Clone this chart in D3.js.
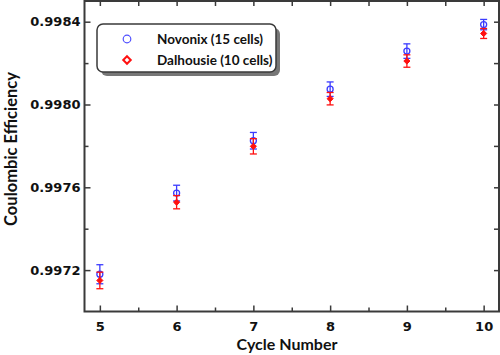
<!DOCTYPE html>
<html><head><meta charset="utf-8">
<script src="https://cdn.jsdelivr.net/npm/d3@7"></script>
<style>body{margin:0;background:#fff}svg{display:block}</style>
</head><body><svg id="c" width="500" height="355"></svg>
<script>
const cycles = [5, 6, 7, 8, 9, 10];
const novonix = [0.99718, 0.997572, 0.997825, 0.998074, 0.998258, 0.998386];
const novonixErr = [0.000046, 0.000038, 0.00004, 0.000035, 0.000035, 0.000025];
const dalhousie = [0.99715, 0.997528, 0.997798, 0.998028, 0.99821, 0.998343];
const dalhousieErr = [0.00004, 0.000032, 0.000037, 0.00003, 0.00003, 0.000024];
const yTicks = [0.9972, 0.9976, 0.9980, 0.9984];
const seriesNames = ["Novonix (15 cells)", "Dalhousie (10 cells)"];

const svg = d3.select("#c");
const L = 84.5, R = 499, T = 1, B = 311.5;
const x = d3.scaleLinear().domain([4.8, 10.2]).range([L, R]);
const y = d3.scaleLinear().domain([0.9970, 0.9985]).range([B, T]);
const axisCol = "#3a3a3a";
const tickFont = "bold 13px 'DejaVu Sans'";

// Axes
const gB = svg.append("g").attr("transform", `translate(0,${B})`)
  .call(d3.axisBottom(x).tickValues(cycles).tickSize(-6).tickPadding(14).tickFormat(d3.format("d")));
const gBm = svg.append("g").attr("transform", `translate(0,${B})`)
  .call(d3.axisBottom(x).tickValues(d3.range(5.5, 10.2, 1)).tickSize(-4).tickFormat(""));
const gT = svg.append("g").attr("transform", `translate(0,${T})`)
  .call(d3.axisTop(x).tickValues(d3.range(5, 10.3, 0.5)).tickSize(-5).tickFormat(""));
const gL = svg.append("g").attr("transform", `translate(${L},0)`)
  .call(d3.axisLeft(y).tickValues(yTicks).tickSize(-6).tickPadding(4).tickFormat(d3.format(".4f")));
const gLm = svg.append("g").attr("transform", `translate(${L},0)`)
  .call(d3.axisLeft(y).tickValues([0.9974, 0.9978, 0.9982]).tickSize(-4).tickFormat(""));
const gR = svg.append("g").attr("transform", `translate(${R},0)`)
  .call(d3.axisRight(y).tickValues(d3.range(0.9972, 0.99845, 0.0002)).tickSize(-5).tickFormat(""));

svg.selectAll(".domain").remove();
svg.selectAll(".tick line").attr("stroke", axisCol).attr("stroke-width", 1.5);
svg.selectAll(".tick text").style("font", tickFont).attr("fill", "#111");
gB.selectAll(".tick text").attr("dy", "0.45em");

svg.append("rect").attr("x", L).attr("y", T).attr("width", R - L).attr("height", B - T)
  .attr("fill", "none").attr("stroke", axisCol).attr("stroke-width", 2);

// Axis titles
svg.append("text").attr("x", 287).attr("y", 350).attr("text-anchor", "middle")
  .style("font", "bold 16px Lato").attr("fill", "#111").text("Cycle Number");
svg.append("text").attr("transform", "translate(17,149) rotate(-90)").attr("text-anchor", "middle")
  .style("font", "bold 16.5px Lato").attr("fill", "#111").text("Coulombic Efficiency");

// Data
function drawSeries(vals, errs, color, shape) {
  const g = svg.append("g");
  cycles.forEach((c, i) => {
    const cx = x(c), v = vals[i], e = errs[i];
    g.append("line").attr("x1", cx).attr("x2", cx).attr("y1", y(v + e)).attr("y2", y(v - e))
      .attr("stroke", color).attr("stroke-width", 1.3);
    [v + e, v - e].forEach(w => g.append("line").attr("x1", cx - 3.5).attr("x2", cx + 3.5)
      .attr("y1", y(w)).attr("y2", y(w)).attr("stroke", color).attr("stroke-width", 1.3));
    if (shape === "circle") {
      g.append("circle").attr("cx", cx).attr("cy", y(v)).attr("r", 3)
        .attr("fill", "none").attr("stroke", color).attr("stroke-width", 1.3);
    } else {
      g.append("path").attr("d", d3.symbol(d3.symbolDiamond2, 24)())
        .attr("transform", `translate(${cx},${y(v)})`)
        .attr("fill", color).attr("stroke", color).attr("stroke-width", 1);
    }
  });
}
drawSeries(novonix, novonixErr, "#3b3bff", "circle");
drawSeries(dalhousie, dalhousieErr, "#ff1010", "diamond");

// Legend
const lg = svg.append("g");
lg.append("rect").attr("x", 101).attr("y", 28).attr("width", 179).attr("height", 48).attr("rx", 6)
  .attr("fill", "#777");
lg.append("rect").attr("x", 97).attr("y", 24).attr("width", 179).attr("height", 48).attr("rx", 6)
  .attr("fill", "#fff").attr("stroke", axisCol).attr("stroke-width", 1.5);
lg.append("circle").attr("cx", 127).attr("cy", 39).attr("r", 3.8)
  .attr("fill", "none").attr("stroke", "#5050ff").attr("stroke-width", 1.2);
lg.append("path").attr("d", d3.symbol(d3.symbolDiamond2, 36)())
  .attr("transform", "translate(127,60)").attr("fill", "#fff").attr("stroke", "#ff1010").attr("stroke-width", 2);
seriesNames.forEach((n, i) => lg.append("text").attr("x", 157).attr("y", 44 + i * 21)
  .style("font", "bold 13.5px Lato").attr("fill", "#111").text(n));
</script></body></html>
